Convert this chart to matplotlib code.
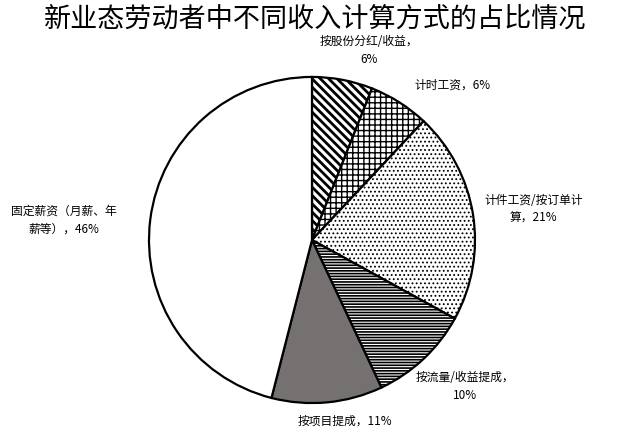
import numpy as np
import matplotlib
matplotlib.use('Agg')
import matplotlib.pyplot as plt

plt.rcParams['font.family'] = ['Noto Sans CJK SC', 'DejaVu Sans']
plt.rcParams['hatch.linewidth'] = 1.2

# data, clockwise from 12 o'clock
categories = ['按股份分红/收益', '计时工资', '计件工资/按订单计算',
              '按流量/收益提成', '按项目提成', '固定薪资（月薪、年薪等）']
shares = [6, 6, 21, 10, 11, 46]
label_texts = ['按股份分红/收益，\n6%', '计时工资，6%', '计件工资/按订单计\n算，21%',
               '按流量/收益提成，\n10%', '按项目提成，11%', '固定薪资（月薪、年\n薪等），46%']

# styling / layout
hatches = ['\\' * 4, '+' * 3, '.' * 4, '-' * 6, '', '']
hatch_lw = [2.0, 1.0, 0.8, 1.2, 1.0, 1.0]
fills = ['white', 'white', 'white', 'white', '#767171', 'white']
label_pos = [(0.35, 1.16), (0.86, 0.95), (1.36, 0.19),
             (0.94, -0.90), (0.20, -1.11), (-1.52, 0.12)]

fig = plt.figure(figsize=(6.31, 4.43), dpi=100)
ax = fig.add_axes([0, 0, 1, 1])

wedges, _ = ax.pie(shares, startangle=90, counterclock=False, radius=1.0,
                   colors=fills, wedgeprops=dict(edgecolor='black', linewidth=1.6))
for w, h, lw in zip(wedges, hatches, hatch_lw):
    w.set_hatch(h)
    if hasattr(w, 'set_hatch_linewidth'):
        w.set_hatch_linewidth(lw)

for txt, (x, y) in zip(label_texts, label_pos):
    ax.text(x, y, txt, ha='center', va='center', fontsize=8.5,
            linespacing=1.5, color='black')

ax.set_xlim(-1.914, 1.957)
ax.set_ylim(-1.245, 1.472)
ax.set_aspect('auto')
ax.axis('off')

fig.text(0.5, 1 - 19 / 443, '新业态劳动者中不同收入计算方式的占比情况',
         ha='center', va='center', fontsize=19.5)

fig.savefig('out.png', dpi=100)
